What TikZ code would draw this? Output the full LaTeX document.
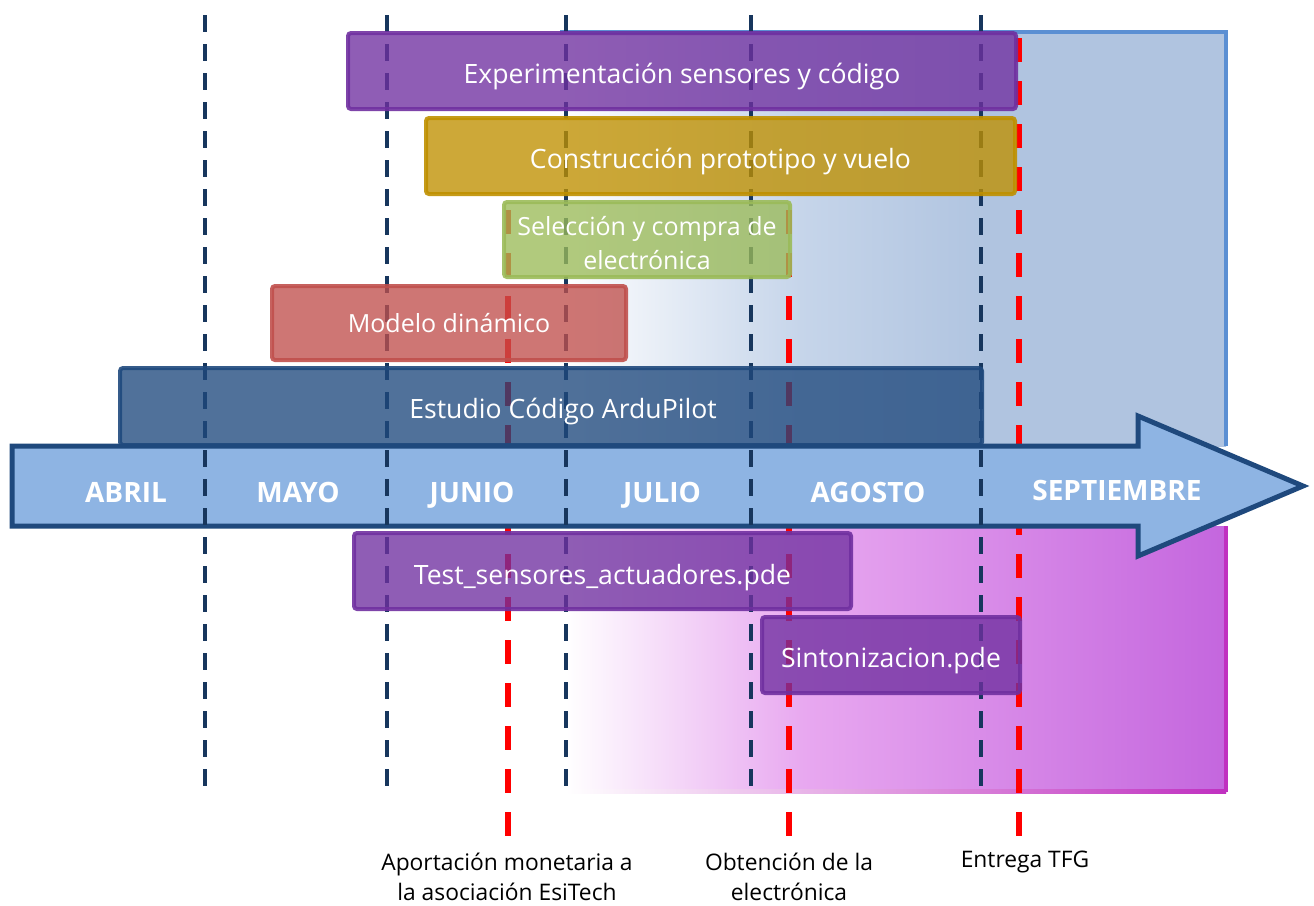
\documentclass[tikz,border=0pt]{standalone}
\usepackage{fontspec}
\setmainfont{Open Sans}
\definecolor{morado}{RGB}{112,48,160}
\definecolor{oro}{RGB}{191,144,0}
\definecolor{verde}{RGB}{155,187,89}
\definecolor{rojo}{RGB}{192,80,77}
\definecolor{azulosc}{RGB}{31,73,125}
\definecolor{azulflecha}{RGB}{142,180,227}
\definecolor{azuldiv}{RGB}{23,54,93}
\definecolor{azmid}{RGB}{198,213,234}
\definecolor{azfin}{RGB}{176,196,224}
\definecolor{bordeazul}{RGB}{91,143,211}
\definecolor{magmid}{RGB}{232,168,240}
\definecolor{magfin}{RGB}{196,102,222}
\definecolor{bordemag}{RGB}{192,48,192}
\pgfdeclarehorizontalshading{fondoazul}{100bp}{color(0bp)=(white); color(25bp)=(white); color(43bp)=(azmid); color(57bp)=(azfin); color(100bp)=(azfin)}
\pgfdeclarehorizontalshading{fondomag}{100bp}{color(0bp)=(white); color(25bp)=(white); color(43bp)=(magmid); color(75bp)=(magfin); color(100bp)=(magfin)}
\tikzstyle{tarea}=[draw,line width=2pt,rounded corners=1.5pt,fill opacity=0.78,draw opacity=0.9,text opacity=1,text=white,inner sep=0pt,align=center,text height=12.5pt,text depth=0.5pt,font=\fontsize{13.3}{17}\selectfont]
\tikzstyle{mes}=[text=white,anchor=base,font=\bfseries\fontsize{14}{16}\selectfont]
\tikzstyle{hito}=[draw=red,line width=3pt,dash pattern=on 12pt off 9.5pt]
\tikzstyle{mesdiv}=[draw=azuldiv,line width=1.75pt,dash pattern=on 8.5pt off 6pt]
\tikzstyle{nota}=[align=center,font=\fontsize{11.4}{15}\selectfont]

\begin{document}
\begin{tikzpicture}[x=0.5pt,y=-0.5pt]
\useasboundingbox (0,0) rectangle (1314,906);
% fondos
\shade[shading=fondoazul] (560,32) rectangle (1226,446);
\draw[bordeazul,line width=2pt] (560,32) -- (1226,32) -- (1226,446);
\shade[shading=fondomag] (566,526) rectangle (1226,792);
\shade[left color=white,right color=bordemag] (566,789) rectangle (1226,793);
\draw[bordemag,line width=2pt] (1226,526) -- (1226,792);
% hitos
\draw[hito] (508,210) -- (508,836);
\draw[hito] (789,210) -- (789,836);
\draw[hito] (1019,38) -- (1019,836);
% flecha de meses
\draw[azulosc,fill=azulflecha,line width=2.5pt,miter limit=10]
    (12,446) -- (1138,446) -- (1138,416) -- (1303,486) -- (1138,556) -- (1138,526) -- (12,526) -- cycle;
\foreach \x in {205,387,566,751,981}
    \draw[mesdiv] (\x,15) -- (\x,786);
% tareas
\node[tarea,draw=morado,fill=morado,minimum width=334pt,minimum height=38pt] (exp) at (682,71) {Experimentación sensores y código};
\node[tarea,draw=oro,fill=oro,minimum width=294.5pt,minimum height=38pt] (cons) at (720.5,156) {Construcción prototipo y vuelo};
\node[tarea,draw=verde,fill=verde,minimum width=143pt,minimum height=37.5pt,text height=30pt,font=\fontsize{12.5}{17}\selectfont] (sel) at (647,239.5) {Selección y compra de\\electrónica};
\node[tarea,draw=rojo,fill=rojo,minimum width=177pt,minimum height=37pt,text height=9.5pt,font=\fontsize{12.5}{17}\selectfont] (mod) at (449,323) {Modelo dinámico};
\node[tarea,draw=azulosc,fill=azulosc,minimum width=431pt,minimum height=38.5pt] (ard) at (551,406.5) {\hspace{12pt}Estudio Código ArduPilot};
\node[tarea,draw=morado,fill=morado,minimum width=248.5pt,minimum height=38pt,text height=14pt] (test) at (602.5,571) {Test\_sensores\_actuadores.pde};
\node[tarea,draw=morado,fill=morado,minimum width=129pt,minimum height=38pt] (sint) at (891,655) {Sintonizacion.pde};
% meses
\node[mes] (abr) at (126,502) {ABRIL};
\node[mes] (may) at (298,502) {MAYO};
\node[mes] (jun) at (472,502) {JUNIO};
\node[mes] (jul) at (662,502) {JULIO};
\node[mes] (ago) at (868,502) {AGOSTO};
\node[mes] (sep) at (1117,500) {SEPTIEMBRE};
% notas de hitos
\node[nota] (aport) at (507,877) {Aportación monetaria a\\la asociación EsiTech};
\node[nota] (obt) at (789,877) {Obtención de la\\electrónica};
\node[nota] (tfg) at (1025,862) {Entrega TFG};
\end{tikzpicture}
\end{document}
